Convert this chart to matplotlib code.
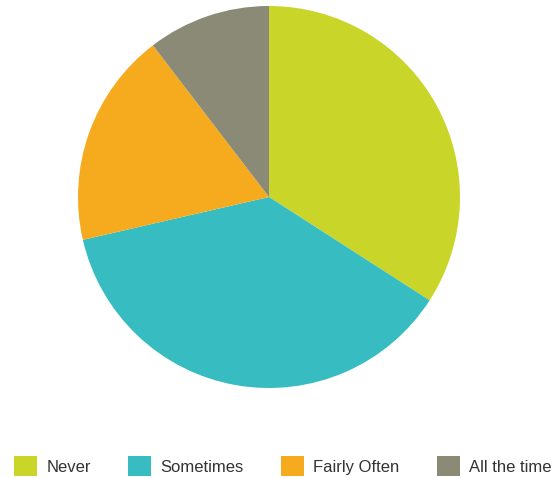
import matplotlib.pyplot as plt
from matplotlib.patches import Patch

plt.rcParams['font.family'] = ['Liberation Sans', 'DejaVu Sans']

labels = ['Never', 'Sometimes', 'Fairly Often', 'All the time']
values = [34.1, 37.3, 18.2, 10.4]
colors = ['#cad52a', '#37bdc1', '#f6ab1e', '#8a8a76']

fig = plt.figure(figsize=(5.55, 4.78), dpi=100)
W, H = 555, 478
cx, cy, r = 269, 197, 191
ax = fig.add_axes([(cx - r) / W, 1 - (cy + r) / H, 2 * r / W, 2 * r / H])
ax.pie(values, colors=colors, startangle=90, counterclock=False, radius=1)
ax.set_xlim(-1, 1)
ax.set_ylim(-1, 1)
ax.set_aspect('equal')
ax.axis('off')

handles = [Patch(facecolor=c, edgecolor='none') for c in colors]
fig.legend(handles, labels, ncol=4, loc='center', bbox_to_anchor=(283 / W, 1 - 466 / H),
           frameon=False, fontsize=12, handlelength=1.38, handleheight=1.4,
           handletextpad=0.55, columnspacing=2.25, labelcolor='#333333')

fig.savefig('out.png', dpi=100)
